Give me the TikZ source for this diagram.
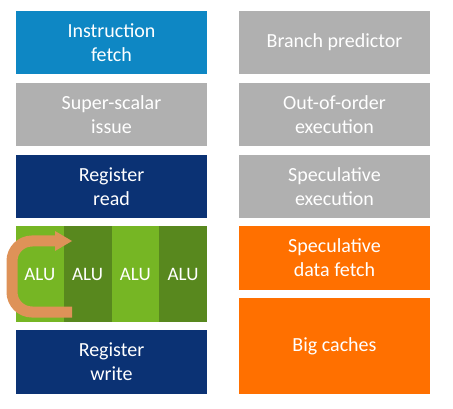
\documentclass[tikz,border=0pt]{standalone}
\usepackage{fontspec}
\setmainfont{Carlito}
\usetikzlibrary{arrows.meta}
\definecolor{cblue}{RGB}{14,135,196}
\definecolor{cgrey}{RGB}{176,176,176}
\definecolor{cnavy}{RGB}{11,50,116}
\definecolor{corange}{RGB}{255,112,0}
\definecolor{clgreen}{RGB}{118,182,36}
\definecolor{cdgreen}{RGB}{88,136,30}
\definecolor{carrow}{RGB}{222,146,88}
\tikzset{
  box/.style={draw=none, minimum width=191pt, minimum height=63pt, inner sep=0pt,
    text=white, align=center, font=\fontsize{20}{24}\selectfont},
  alubox/.style={draw=none, minimum width=47.75pt, minimum height=96pt, inner sep=0pt,
    text=white, font=\fontsize{19}{23}\selectfont},
}
\begin{document}
\begin{tikzpicture}[x=1pt,y=-1pt]
\useasboundingbox (0,0) rectangle (453,409);
% left column
\node[box, fill=cblue] (ifetch) at (111.5,42.5) {Instruction\\fetch};
\node[box, fill=cgrey] (ssissue) at (111.5,114.5) {Super-scalar\\issue};
\node[box, fill=cnavy] (rread) at (111.5,186.5) {Register\\read};
\node[alubox, fill=clgreen] (alu1) at (39.875,274) {ALU};
\node[alubox, fill=cdgreen] (alu2) at (87.625,274) {ALU};
\node[alubox, fill=clgreen] (alu3) at (135.375,274) {ALU};
\node[alubox, fill=cdgreen] (alu4) at (183.125,274) {ALU};
\node[box, fill=cnavy, minimum height=64pt] (rwrite) at (111.5,362) {Register\\write};
% right column
\node[box, fill=cgrey] (bpred) at (334.5,42.5) {Branch predictor};
\node[box, fill=cgrey] (ooo) at (334.5,114.5) {Out-of-order\\execution};
\node[box, fill=cgrey] (specex) at (334.5,186.5) {Speculative\\execution};
\node[box, fill=corange, minimum height=64pt] (specdf) at (334.5,258) {Speculative\\data fetch};
\node[box, fill=corange, minimum height=96pt] (caches) at (334.5,346) {Big caches};
% loop arrow
\coordinate (as) at (72,312);
\coordinate (ae) at (56,241);
\draw[carrow, line width=11pt, rounded corners=20pt] (as) -- (12,312) -- (12,241) -- (ae);
\fill[carrow] (55,231) -- (72,241) -- (55,251) -- cycle;
\end{tikzpicture}
\end{document}
